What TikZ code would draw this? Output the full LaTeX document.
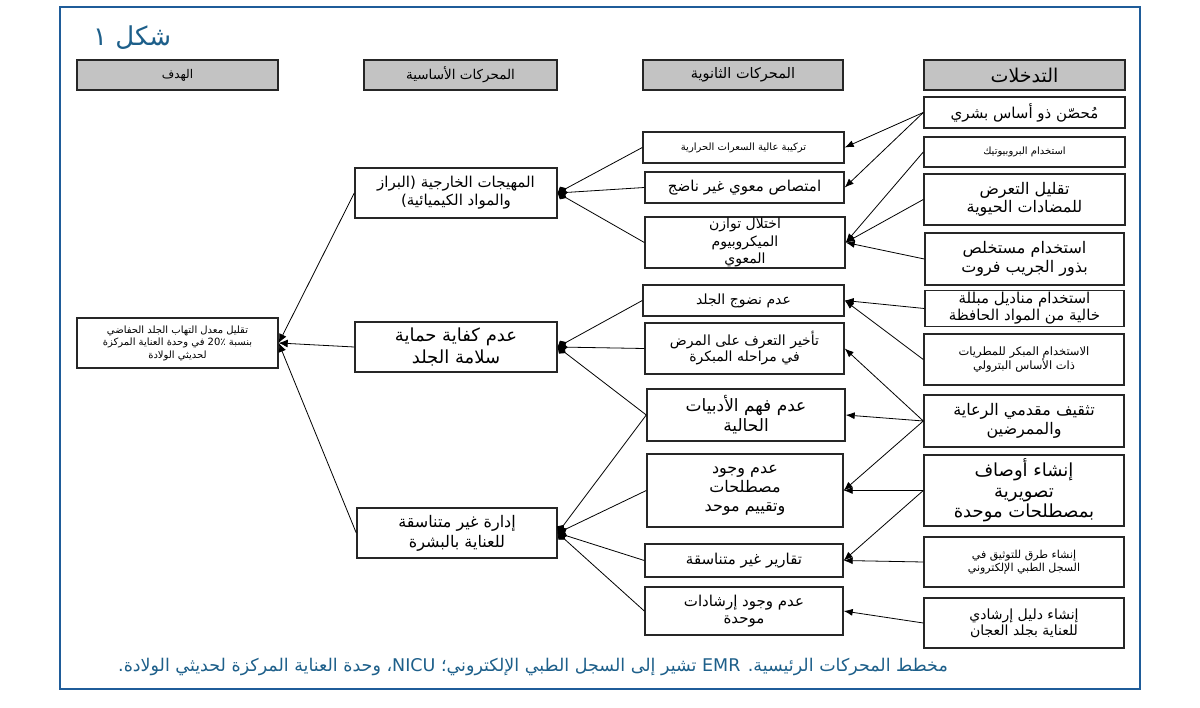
\documentclass[tikz,border=0pt]{standalone}
\usepackage{fontspec}
\TeXXeTstate=1
\newfontfamily\arabicfont[Script=Arabic]{DejaVu Sans}
\newcommand\rtl[1]{\beginR #1\endR}
\usetikzlibrary{arrows.meta}
\definecolor{framec}{HTML}{1F5C99}
\definecolor{titlec}{HTML}{1D5F8A}
\definecolor{headc}{HTML}{C3C3C3}
\definecolor{boxc}{HTML}{262626}
\tikzset{
  box/.style={draw=boxc, line width=1.4pt, fill=white, inner sep=0pt, align=center},
  headbox/.style={box, fill=headc},
  fs/.style 2 args={font=\arabicfont\fontsize{#1}{#2}\selectfont},
  arr/.style={draw=black, line width=0.8pt, -{Latex[length=9pt,width=7pt]}},
  dia/.style={draw=black, line width=0.8pt, -{Diamond[length=10pt,width=9pt]}},
  goalarr/.style={draw=black, line width=0.8pt, -{Latex[length=9pt,width=8pt]}},
}
\begin{document}
\begin{tikzpicture}[x=1pt,y=-1pt]
\useasboundingbox (0,0) rectangle (1200,708);
\fill[white] (0,0) rectangle (1200,708);
\draw[framec, line width=2pt] (60,7) rectangle (1140,689);
% title
\node[fs={26}{30}, text=titlec, anchor=west, inner sep=0pt] (title) at (93,38) {\rtl{شكل ١}};
% headers
\node[headbox, fs={12}{14}, minimum width=201, minimum height=30] (hgoal) at (177.5,75) {\rtl{الهدف}};
\node[headbox, fs={13.5}{16}, minimum width=193, minimum height=30] (hprim) at (460.5,75) {\rtl{المحركات الأساسية}};
\node[headbox, fs={14.5}{17}, minimum width=200, minimum height=30] (hsec) at (743,75) {\rtl{المحركات الثانوية}};
\node[headbox, fs={19}{21}, minimum width=201, minimum height=30] (hint) at (1024.5,75) {\rtl{التدخلات}};
% goal
\node[box, fs={10}{12.5}, minimum width=201, minimum height=50] (goal) at (177.5,343) {\rtl{تقليل معدل التهاب الجلد الحفاضي}\\\rtl{بنسبة \beginL 20\hbox{٪}\endL{} في وحدة العناية المركزة}\\\rtl{لحديثي الولادة}};
% primary
\node[box, fs={15}{18}, minimum width=202, minimum height=50] (p1) at (456,193) {\rtl{المهيجات الخارجية (البراز}\\\rtl{والمواد الكيميائية)}};
\node[box, fs={18}{22}, minimum width=202, minimum height=50] (p2) at (456,347) {\rtl{عدم كفاية حماية}\\\rtl{سلامة الجلد}};
\node[box, fs={16}{20}, minimum width=200, minimum height=50] (p3) at (457,533) {\rtl{إدارة غير متناسقة}\\\rtl{للعناية بالبشرة}};
% secondary
\node[box, fs={10}{12}, minimum width=201, minimum height=31] (s1) at (743.5,147.5) {\rtl{تركيبة عالية السعرات الحرارية}};
\node[box, fs={15}{18}, minimum width=199, minimum height=31] (s2) at (744.5,187.5) {\rtl{امتصاص معوي غير ناضج}};
\node[box, fs={14}{17.5}, minimum width=200, minimum height=51] (s3) at (745,242.5) {\rtl{اختلال توازن}\\\rtl{الميكروبيوم}\\\rtl{المعوي}};
\node[box, fs={14}{17}, minimum width=201, minimum height=31] (s4) at (743.5,300.5) {\rtl{عدم نضوج الجلد}};
\node[box, fs={14}{16}, minimum width=199, minimum height=51] (s5) at (744.5,348.5) {\rtl{تأخير التعرف على المرض}\\\rtl{في مراحله المبكرة}};
\node[box, fs={17}{20}, minimum width=198, minimum height=52] (s6) at (746,415) {\rtl{عدم فهم الأدبيات}\\\rtl{الحالية}};
\node[box, fs={16}{19}, minimum width=196, minimum height=73] (s7) at (745,490.5) {\rtl{عدم وجود}\\\rtl{مصطلحات}\\\rtl{وتقييم موحد}};
\node[box, fs={15}{18}, minimum width=198, minimum height=33] (s8) at (744,560.5) {\rtl{تقارير غير متناسقة}};
\node[box, fs={15}{17}, minimum width=198, minimum height=48] (s9) at (744,611) {\rtl{عدم وجود إرشادات}\\\rtl{موحدة}};
% interventions
\node[box, fs={15}{18}, minimum width=201, minimum height=31] (i1) at (1024.5,112.5) {\rtl{مُحصّن ذو أساس بشري}};
\node[box, fs={10}{12}, minimum width=201, minimum height=30] (i2) at (1024.5,152) {\rtl{استخدام البروبيوتيك}};
\node[box, fs={16}{18.5}, minimum width=201, minimum height=51] (i3) at (1024.5,199.5) {\rtl{تقليل التعرض}\\\rtl{للمضادات الحيوية}};
\node[box, fs={16}{19}, minimum width=199, minimum height=52] (i4) at (1024.5,259) {\rtl{استخدام مستخلص}\\\rtl{بذور الجريب فروت}};
\node[box, fs={15}{17}, minimum width=199, minimum height=36] (i5) at (1024.5,308.5) {\rtl{استخدام مناديل مبللة}\\\rtl{خالية من المواد الحافظة}};
\node[box, fs={11.5}{14}, minimum width=200, minimum height=51] (i6) at (1024,359.5) {\rtl{الاستخدام المبكر للمطريات}\\\rtl{ذات الأساس البترولي}};
\node[box, fs={16}{19}, minimum width=200, minimum height=52] (i7) at (1024,421) {\rtl{تثقيف مقدمي الرعاية}\\\rtl{والممرضين}};
\node[box, fs={18}{20.5}, minimum width=200, minimum height=71] (i8) at (1024,490.5) {\rtl{إنشاء أوصاف}\\\rtl{تصويرية}\\\rtl{بمصطلحات موحدة}};
\node[box, fs={11}{13.5}, minimum width=200, minimum height=50] (i9) at (1024,562) {\rtl{إنشاء طرق للتوثيق في}\\\rtl{السجل الطبي الإلكتروني}};
\node[box, fs={14}{16}, minimum width=200, minimum height=50] (i10) at (1024,623) {\rtl{إنشاء دليل إرشادي}\\\rtl{للعناية بجلد العجان}};
% caption
\node[fs={17.5}{20}, text=titlec, anchor=west, inner sep=0pt] (cap) at (118,667) {\rtl{مخطط المحركات الرئيسية. EMR تشير إلى السجل الطبي الإلكتروني؛ \beginL NICU\endL، وحدة العناية المركزة لحديثي الولادة.}};
% primary -> goal
\draw[goalarr] (p1.west) -- (goal.east);
\draw[goalarr] (p2.west) -- (goal.east);
\draw[goalarr] (p3.west) -- (goal.east);
% secondary -> primary
\draw[dia] (s1.west) -- (p1.east);
\draw[dia] (s2.west) -- (p1.east);
\draw[dia] (s3.west) -- (p1.east);
\draw[dia] (s4.west) -- (p2.east);
\draw[dia] (s5.west) -- (p2.east);
\draw[dia] (s6.west) -- (p2.east);
\draw[dia] (s6.west) -- (p3.east);
\draw[dia] (s7.west) -- (p3.east);
\draw[dia] (s8.west) -- (p3.east);
\draw[dia] (s9.west) -- (p3.east);
% interventions -> secondary
\draw[arr] (i1.west) -- (s1.east);
\draw[arr] (i1.west) -- (s2.east);
\draw[arr] (i2.west) -- (s3.east);
\draw[arr] (i3.west) -- (s3.east);
\draw[arr] (i4.west) -- (s3.east);
\draw[arr] (i5.west) -- (s4.east);
\draw[arr] (i6.west) -- (s4.east);
\draw[arr] (i7.west) -- (s5.east);
\draw[arr] (i7.west) -- (s6.east);
\draw[arr] (i7.west) -- (s7.east);
\draw[arr] (i8.west) -- (s7.east);
\draw[arr] (i8.west) -- (s8.east);
\draw[arr] (i9.west) -- (s8.east);
\draw[arr] (i10.west) -- (s9.east);
\end{tikzpicture}
\end{document}
